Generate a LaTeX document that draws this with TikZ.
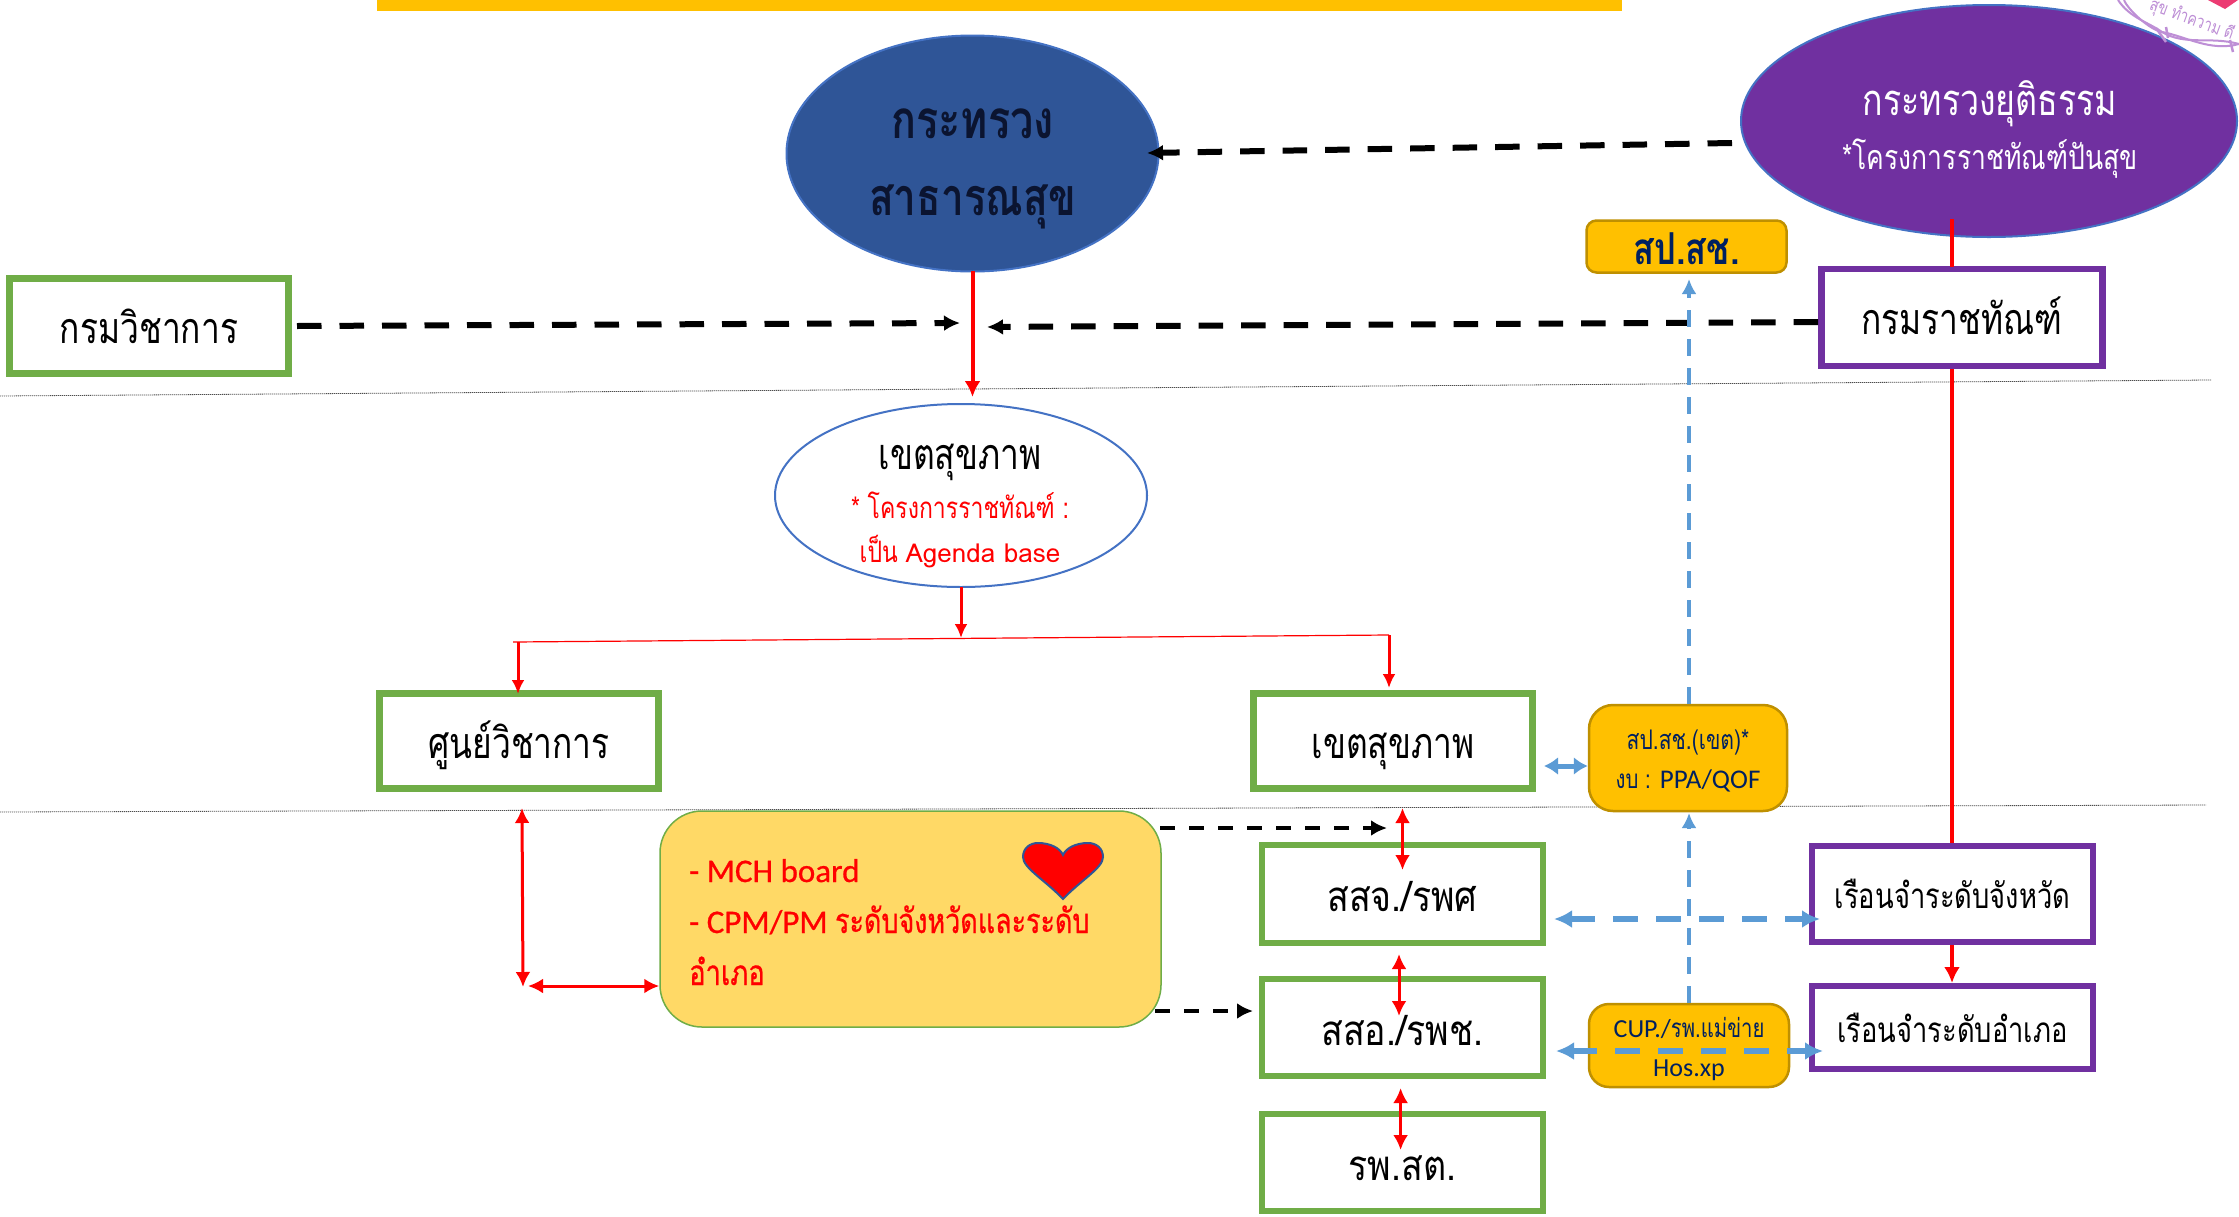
\documentclass[tikz,border=0pt]{standalone}
\usepackage{fontspec}
\setmainfont{Carlito}
\newfontfamily\thaifont[Script=Thai,FakeStretch=0.78]{Loma}
\newfontfamily\thaiwide[Script=Thai,FakeStretch=0.85]{Loma}
\newfontfamily\thaiheavy[Script=Thai,FakeStretch=0.78,FakeBold=0.7]{Loma}
\newfontfamily\latinheavy[FakeBold=0.7]{Carlito}
\newfontfamily\latinwide[FakeStretch=1.0]{Loma}
\usetikzlibrary{shapes.geometric,arrows.meta}
\definecolor{barY}{HTML}{FFC000}
\definecolor{navyE}{HTML}{2F5597}
\definecolor{navyT}{HTML}{002060}
\definecolor{inkT}{HTML}{0B1430}
\definecolor{edgeB}{HTML}{4472C4}
\definecolor{purpleE}{HTML}{7030A0}
\definecolor{greenB}{HTML}{70AD47}
\definecolor{goldE}{HTML}{BF9000}
\definecolor{softY}{HTML}{FFD966}
\definecolor{blueA}{HTML}{5B9BD5}
\definecolor{redA}{HTML}{FF0000}
\definecolor{stampP}{HTML}{BE8FD6}
\definecolor{stampH}{HTML}{EC3B72}
\newcommand{\tsz}[2]{\fontsize{#1}{#2}\selectfont}
\tikzset{
  x=1pt,y=-1pt,
  greenbox/.style={draw=greenB,line width=6.5pt,fill=white,inner sep=0pt,text height=35pt,text depth=0pt},
  purplebox/.style={draw=purpleE,line width=6.5pt,fill=white,inner sep=0pt,text height=29pt,text depth=0pt},
  goldbox/.style={draw=goldE,fill=barY,line width=2.5pt,rounded corners=#1,inner sep=0pt,align=center,text=navyT},
  goldbox/.default=14pt,
  blackdash/.style={draw=black,line width=#1,dash pattern=on 24.5pt off 18pt},
  blackdash/.default=6pt,
  smalldash/.style={draw=black,line width=4.5pt,dash pattern=on 15pt off 14pt,-{Latex[length=16pt,width=16pt]}},
  bluedash/.style={draw=blueA,line width=4pt,dash pattern=on 17pt off 12pt,-{Latex[length=15pt,width=15pt]}},
  bluewide/.style={draw=blueA,line width=6pt,dash pattern=on 25pt off 18pt,{Latex[length=18pt,width=18pt]}-{Latex[length=18pt,width=18pt]}},
  reddouble/.style={draw=redA,line width=3pt,{Latex[length=15pt,width=15pt]}-{Latex[length=15pt,width=15pt]}},
  redsingle/.style={draw=redA,line width=3pt,-{Latex[length=14pt,width=13pt]}},
  sepline/.style={draw=black!70,line width=0.8pt,dash pattern=on 1.2pt off 0.8pt},
  label/.style={inner sep=0pt,align=center,anchor=base},
}
\begin{document}
\begin{tikzpicture}
\useasboundingbox (0,0) rectangle (2239,1216);
\fill[white] (0,0) rectangle (2239,1216);
% top bar
\fill[barY] (377,0) rectangle (1622,11);
% separators
\draw[sepline] (0,396) -- (2211,380);
\draw[sepline] (0,812) -- (2206,805);
% ellipses
\node[ellipse,draw=edgeB,fill=navyE,line width=2pt,minimum width=372pt,minimum height=236pt,inner sep=0pt] (moph) at (972.5,153.5) {};
\node[label,text=inkT] (mopht1) at (972.5,138) {\thaifont\bfseries\tsz{53}{53}กระทรวง};
\node[label,text=inkT] (mopht2) at (972.5,215) {\thaifont\bfseries\tsz{52}{52}สาธารณสุข};
\node[ellipse,draw=edgeB,fill=purpleE,line width=2pt,minimum width=496pt,minimum height=232pt,inner sep=0pt] (justice) at (1989,121) {};
\node[label,text=white] (justt1) at (1990,115) {\thaifont\tsz{43.5}{44}กระทรวงยุติธรรม};
\node[label,text=white] (justt2) at (1990,169) {\thaifont\tsz{34}{34}*โครงการราชทัณฑ์ปันสุข};
\node[ellipse,draw=edgeB,fill=white,line width=2pt,minimum width=372pt,minimum height=183pt,inner sep=0pt] (region) at (961,495.5) {};
\node[label] (regt1) at (960,469) {\thaifont\tsz{43}{43}เขตสุขภาพ};
\node[label,text=redA] (regt2) at (960,518) {\thaifont\tsz{29.5}{30}* โครงการราชทัณฑ์ :};
\node[label,text=redA] (regt3) at (960,562) {\thaifont\tsz{29.5}{30}เป็น {\latinwide\tsz{26}{26}Agenda base}};
% stamp in corner
\begin{scope}
\clip (2080,0) rectangle (2239,70);
\draw[stampP,line width=2pt] (2118,0) .. controls (2130,18) and (2148,22) .. (2162,32) .. controls (2185,46) and (2210,36) .. (2239,44);
\draw[stampP,line width=2pt] (2124,0) .. controls (2128,10) and (2150,30) .. (2162,32) .. controls (2185,36) and (2210,52) .. (2239,44);
\draw[stampP,line width=2.5pt] (2156,28) -- (2166,42) (2166,27) -- (2168,38) (2230,40) -- (2233,52);
\node[label,text=stampP,rotate=-20] (stamptext) at (2190,25) {\thaifont\tsz{18}{18}สุข ทำความ ดี};
\fill[stampH] (2208,0) -- (2225,9) -- (2238,0) -- cycle;
\end{scope}
% boxes
\node[greenbox,minimum width=279pt,minimum height=95pt] (acad) at (149,326) {\thaifont\tsz{43}{43}กรมวิชาการ};
\node[purplebox,minimum width=281pt,minimum height=97pt,text height=33pt] (correct) at (1962,317.5) {\thaifont\tsz{43}{43}กรมราชทัณฑ์};
\node[goldbox=10pt,minimum width=200pt,minimum height=52pt,text height=36pt,text depth=0pt] (nhso) at (1686.5,246.5) {\thaifont\bfseries\tsz{44}{44}สป.สช.};
\node[greenbox,minimum width=279pt,minimum height=95pt] (center) at (519,741) {\thaifont\tsz{43}{43}ศูนย์วิชาการ};
\node[greenbox,minimum width=279pt,minimum height=95pt] (regbox) at (1393,741) {\thaifont\tsz{43}{43}เขตสุขภาพ};
\node[goldbox=24pt,minimum width=198pt,minimum height=106pt] (nhsor) at (1688,758) {};
\node[label,text=navyT] (nhsort1) at (1688,749) {\thaifont\tsz{27}{27}สป.สช.(เขต)*};
\node[label,text=navyT] (nhsort2) at (1688,788) {\thaifont\tsz{26}{26}งบ : {\rmfamily\tsz{27}{27}PPA/QOF}};
\node[draw=greenB,fill=softY,line width=1.5pt,rounded corners=42pt,minimum width=501pt,minimum height=216pt,inner sep=0pt] (mch) at (910.5,919) {};
\node[label,text=redA,anchor=base west] (mcht1) at (689,882) {\latinheavy\tsz{33}{33}- MCH board};
\node[label,text=redA,anchor=base west] (mcht2) at (689,933) {\latinheavy\tsz{33}{33}- CPM/PM {\thaiheavy\tsz{34.5}{35}ระดับจังหวัดและระดับ}};
\node[label,text=redA,anchor=base west] (mcht3) at (689,985) {\thaiheavy\tsz{35}{35}อำเภอ};
\draw[draw=navyE,fill=redA,line width=2pt] (1063,899) .. controls (1045,880) and (1023,868) .. (1023,857) .. controls (1023,848) and (1030,843) .. (1038,843) .. controls (1050,843) and (1060,848) .. (1063,855) .. controls (1066,848) and (1076,843) .. (1088,843) .. controls (1096,843) and (1103,848) .. (1103,857) .. controls (1103,868) and (1081,880) .. (1063,899) -- cycle;
\node[greenbox,minimum width=281pt,minimum height=98pt] (ssj) at (1402.5,894) {\thaiwide\tsz{42}{42}สสจ./รพศ};
\node[greenbox,minimum width=281pt,minimum height=97pt] (sso) at (1402.5,1027.5) {\thaiwide\tsz{42}{42}สสอ./รพช.};
\node[greenbox,minimum width=281pt,minimum height=97pt] (tambon) at (1402.5,1162.5) {\thaiwide\tsz{42}{42}รพ.สต.};
\node[purplebox,minimum width=281pt,minimum height=96pt] (prisonp) at (1952.5,894) {\thaifont\tsz{35}{35}เรือนจำระดับจังหวัด};
\node[purplebox,minimum width=281pt,minimum height=83pt] (prisond) at (1952.5,1027.5) {\thaifont\tsz{35}{35}เรือนจำระดับอำเภอ};
\node[goldbox=20pt,minimum width=200pt,minimum height=83pt] (cup) at (1689,1045.5) {};
\node[label,text=navyT] (cupt1) at (1689,1037) {\rmfamily\tsz{26}{26}CUP./{\thaifont\tsz{26}{26}รพ.แม่ข่าย}};
\node[label,text=navyT] (cupt2) at (1689,1076) {\rmfamily\tsz{26}{26}Hos.xp};
% helper coordinates
\coordinate (jm1) at (1732,143);
\coordinate (jm2) at (1147,153);
\coordinate (am1) at (297,326);
\coordinate (am2) at (960,323);
\coordinate (cm1) at (1818,322);
\coordinate (cm2) at (987,327);
\coordinate (split) at (961,638);
\coordinate (hl) at (513,642);
\coordinate (hr) at (1389,635);
\coordinate (hla) at (518,642);
\coordinate (mid1) at (523,987);
\coordinate (midt) at (522,808);
\coordinate (midh) at (528,986);
% black dashed
\draw[blackdash,-{Latex[length=16pt,width=16pt]}] (jm1) -- (jm2);
\draw[blackdash,-{Latex[length=16pt,width=16pt]}] (am1) -- (am2);
\draw[blackdash,-{Latex[length=16pt,width=16pt]}] (cm1) -- (cm2);
\draw[smalldash] (1160,828) -- (1387,828);
\draw[smalldash] (1155,1011) -- (1253,1011);
% red
\draw[redA,line width=4pt] (1952,219) -- (1952,267);
\draw[redA,line width=4pt] (1952,369) -- (1952,843);
\draw[redsingle,line width=4pt,-{Latex[length=16pt,width=16pt]}] (1952,945) -- (1952,983);
\draw[redsingle,line width=4pt,-{Latex[length=16pt,width=16pt]}] (972.5,271) -- (972.5,397);
\draw[redsingle] (961,587) -- (split);
\draw[redA,line width=1.2pt] (hl) -- (hr);
\draw[redsingle] (hla) -- (518,694);
\draw[redsingle] (hr) -- (1389,688);
\draw[reddouble] (midt) -- (mid1);
\draw[reddouble] (midh) -- (mch.west |- midh);
\draw[reddouble] (1402.5,808) -- (1402.5,870);
\draw[reddouble] (1399,954) -- (1399,1016);
\draw[reddouble] (1400.6,1088) -- (1400.6,1150);
% blue
\draw[bluedash] (nhsor.north -| 1689,0) -- (1689,279);
\draw[bluedash] (cup.north -| 1689,0) -- (1689,813);
\draw[draw=blueA,line width=5pt,{Latex[length=14pt,width=18pt]}-{Latex[length=14pt,width=18pt]}] (1544,766) -- (nhsor.west |- 0,766);
\draw[bluewide] (1554,919) -- (1820,919);
\draw[bluewide] (1556,1051) -- (1823,1051);
\end{tikzpicture}
\end{document}
